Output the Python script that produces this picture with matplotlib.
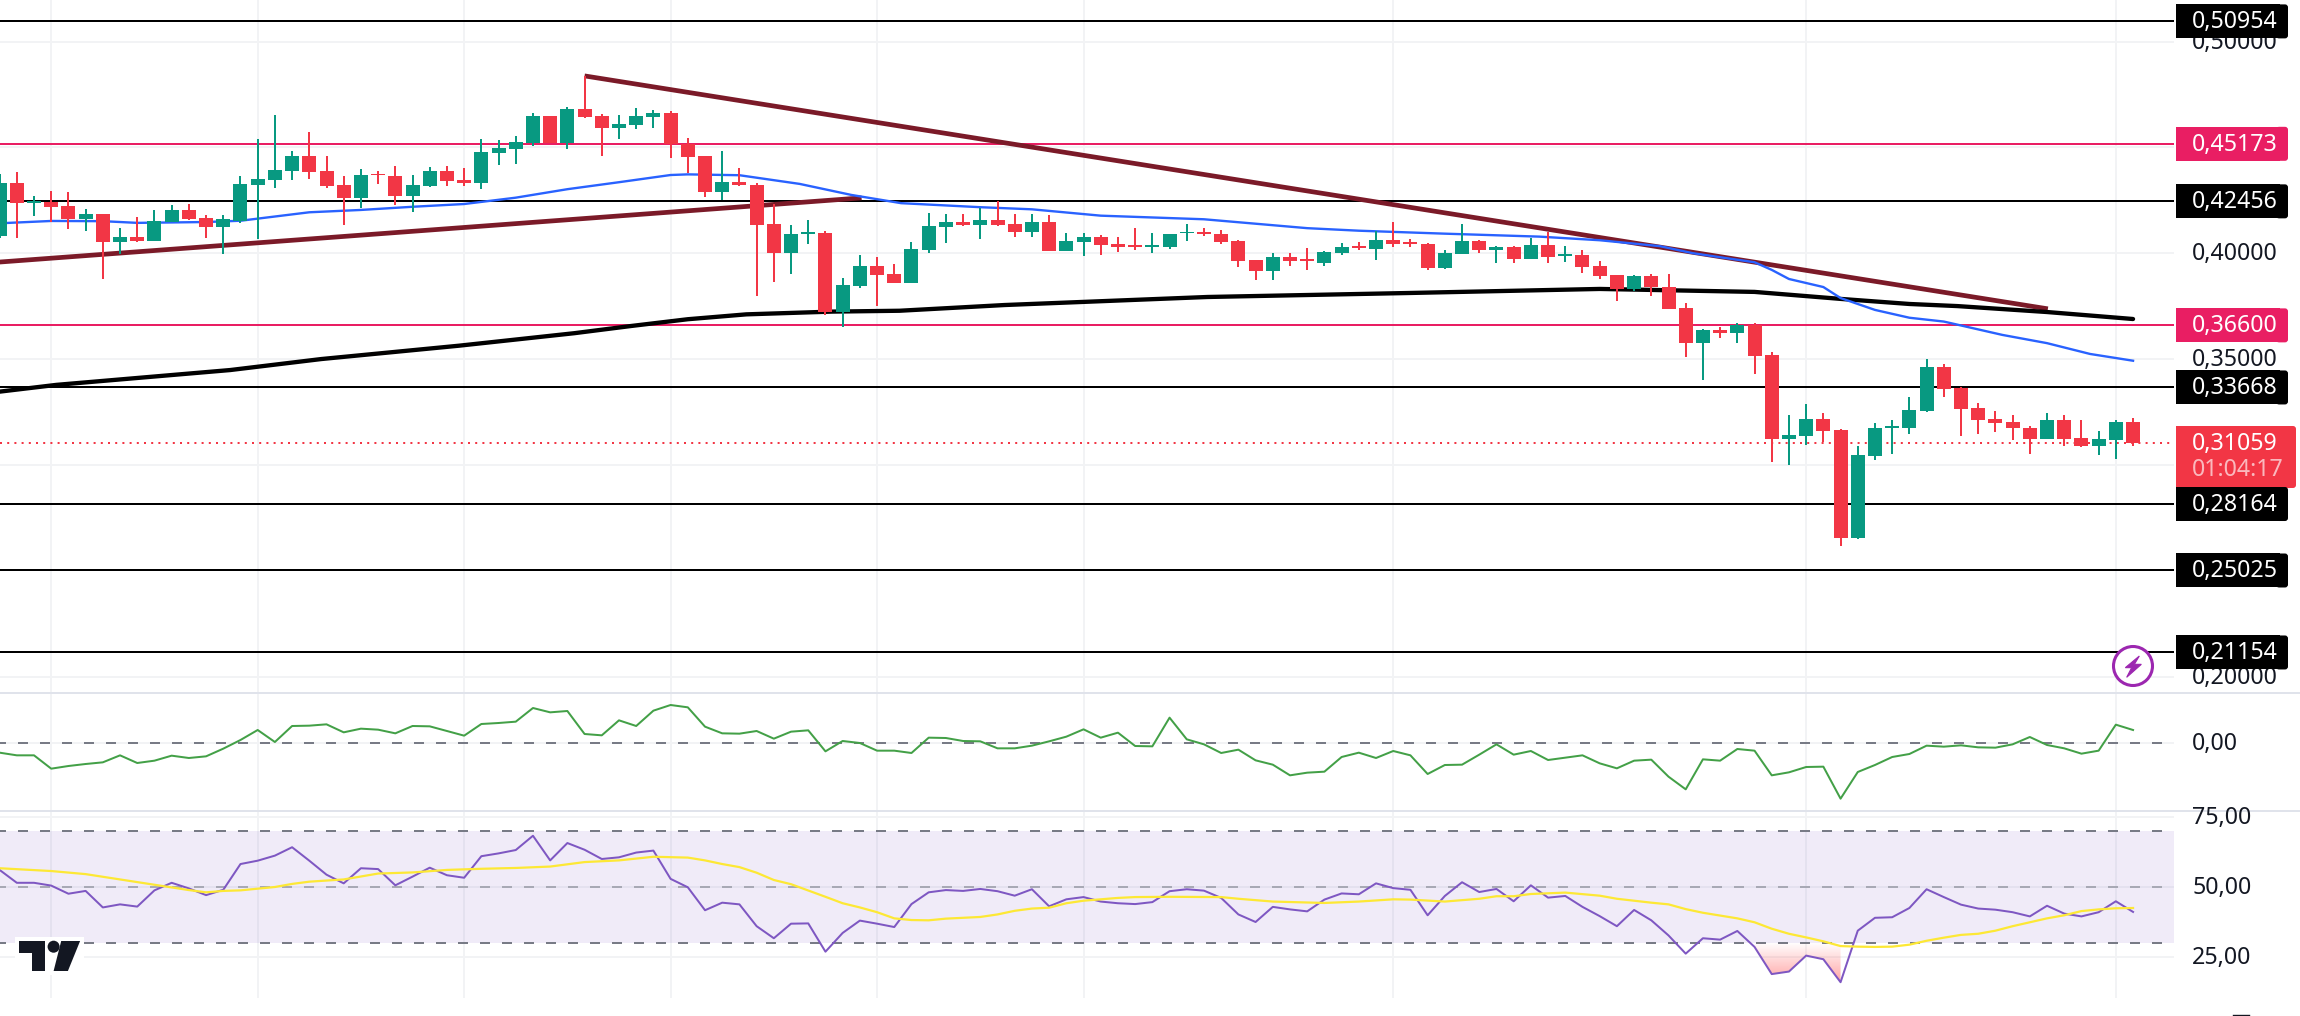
import numpy as np
import matplotlib
matplotlib.use("Agg")
import matplotlib.pyplot as plt
from matplotlib.patches import Rectangle, Circle, Polygon, FancyBboxPatch, PathPatch
from matplotlib.colors import LinearSegmentedColormap

# ---------- data ----------
opens = [.4084,.4332,.4239,.4243,.4224,.4162,.4186,.4054,.4077,.4058,.4147,.4205,.4167,.4125,.4153,.4323,.4346,.4389,.4460,.4389,
         .4323,.4261,.4375,.4365,.4271,.4318,.4389,.4346,.4332,.4474,.4493,.4520,.4649,.4520,.4682,.4649,.4592,.4606,.4644,.4663,
         .4516,.4460,.4290,.4337,.4323,.4139,.4002,
         .4092,.4096,.3723,.3846,.3941,.3903,.3860,.4016,.4125,.4148,.4134,.4158,.4139,.4101,.4148,.4011,.4054,.4078,.4044,.4040,
         .4030,.4030,.4095,.4101,.4092,.4059,.3969,.3917,.3983,.3974,.3955,.4002,.4035,.4021,.4063,.4054,.4044,.3931,.3997,.4059,
         .4016,.4030,.3974,.4040,.3988,.3992,.3941,
         .3898,.3832,.3893,.3841,.3742,.3577,.3638,.3624,.3662,.3520,.3124,.3138,.3218,.3166,.2656,.3043,.3176,.3176,.3256,.3464,
         .3364,.3270,.3218,.3204,.3176,.3124,.3213,.3128,.3091,.3119,.3204]
highs = [.4373,.4384,.4271,.4294,.4290,.4210,.4186,.4120,.4172,.4205,.4228,.4233,.4181,.4181,.4365,.4540,.4653,.4483,.4573,.4460,
         .4365,.4398,.4389,.4412,.4370,.4408,.4412,.4403,.4540,.4535,.4554,.4663,.4649,.4691,.4837,.4658,.4653,.4686,.4677,.4672,
         .4545,.4460,.4483,.4403,.4332,.4233,.4134,
         .4158,.4106,.3884,.3992,.3983,.3950,.4054,.4191,.4186,.4186,.4214,.4247,.4186,.4186,.4181,.4096,.4096,.4087,.4078,.4120,
         .4096,.4092,.4139,.4120,.4111,.4063,.3969,.4002,.4002,.4025,.4011,.4049,.4054,.4106,.4148,.4068,.4049,.4016,.4139,.4063,
         .4035,.4035,.4073,.4101,.4035,.4016,.3964,
         .3898,.3898,.3903,.3903,.3766,.3643,.3652,.3671,.3671,.3534,.3237,.3289,.3246,.3171,.3091,.3199,.3213,.3322,.3501,.3478,
         .3369,.3294,.3256,.3237,.3185,.3246,.3237,.3213,.3161,.3213,.3223]
lows = [.4074,.4074,.4178,.4150,.4115,.4106,.3879,.3997,.4054,.4058,.4147,.4158,.4073,.3997,.4144,.4068,.4308,.4346,.4351,.4308,
        .4134,.4214,.4327,.4228,.4195,.4313,.4318,.4318,.4304,.4417,.4422,.4507,.4520,.4493,.4639,.4460,.4540,.4587,.4592,.4450,
        .4379,.4266,.4252,.4318,.3799,.3865,.3903,
        .4044,.3709,.3653,.3837,.3752,.3860,.3860,.4002,.4049,.4129,.4068,.4129,.4078,.4078,.4011,.4011,.3988,.3992,.4007,.4016,
        .4002,.4021,.4059,.4082,.4044,.3936,.3874,.3874,.3941,.3922,.3941,.3992,.4016,.3969,.4030,.4030,.3922,.3927,.3997,.4002,
        .3955,.3955,.3974,.3955,.3959,.3908,.3879,
        .3775,.3823,.3799,.3738,.3511,.3402,.3601,.3577,.3431,.3015,.3001,.3095,.3109,.2619,.2652,.3025,.3053,.3147,.3251,.3322,
        .3138,.3147,.3157,.3119,.3053,.3124,.3091,.3086,.3048,.3029,.3091]
closes = [.4332,.4239,.4246,.4219,.4162,.4186,.4054,.4077,.4058,.4153,.4205,.4162,.4125,.4162,.4327,.4351,.4393,.4460,.4384,.4318,
          .4261,.4370,.4368,.4271,.4323,.4389,.4342,.4332,.4479,.4498,.4526,.4649,.4520,.4682,.4644,.4592,.4611,.4649,.4663,.4516,
          .4455,.4290,.4337,.4323,.4134,.4002,.4092,
          .4101,.3723,.3851,.3941,.3898,.3860,.4021,.4129,.4148,.4134,.4158,.4134,.4101,.4148,.4011,.4059,.4078,.4040,.4030,.4030,
          .4040,.4092,.4101,.4092,.4054,.3964,.3917,.3983,.3964,.3964,.4007,.4030,.4025,.4063,.4044,.4044,.3931,.4002,.4059,.4016,
          .4030,.3974,.4040,.3983,.3997,.3936,.3893,
          .3832,.3893,.3841,.3738,.3577,.3638,.3624,.3662,.3516,.3124,.3143,.3218,.3161,.2656,.3048,.3176,.3185,.3261,.3464,.3360,
          .3265,.3213,.3199,.3176,.3124,.3213,.3124,.3091,.3124,.3204,.31059]

ma_blue_idx = [0,3,6,8,12,14,15,18,21,24,27,30,33,36,39,40,43,46.5,49.5,52.4,57,60,64,70,76,79,84,89.5,93,96.5,98.4,100.4,102,103,104,106,107,109,111,113,116.4,119,121.5,124]
ma_blue_val = [.4142,.4153,.4152,.4144,.4148,.4154,.4164,.4194,.4205,.4220,.4233,.4263,.4303,.4336,.4370,.4373,.4369,.4328,.4276,.4237,.4218,.4208,.4178,.4161,.4119,.4107,.4093,.4079,.4062,.4034,.4001,.3977,.3958,.3922,.3879,.3841,.3789,.3733,.3696,.3678,.3615,.3576,.3525,.3493]
ma_black_idx = [0,3.3,13.4,18.7,26.7,33.4,36.7,40,43.4,48.4,52.3,58.4,70.2,82,93,102,107,111,113.8,119,124]
ma_black_val = [.3347,.3379,.3449,.3501,.3564,.3623,.3657,.3689,.3712,.3725,.3729,.3756,.3794,.3813,.3832,.3818,.3785,.3761,.3751,.3723,.3690]

trend_up_idx = [0,50.1]
trend_up_val = [.3959,.4262]
trend_down_idx = [34,119.05]
trend_down_val = [.4838,.3738]

levels_black = [.50954,.42456,.33668,.28164,.25025,.21154]
levels_pink = [.45173,.36600]
last_price = .31059
countdown = "01:04:17"

price_ticks = [.50,.40,.35,.20]
price_grid = [.50,.45,.40,.35,.30,.20]
rsi_ticks = [75,50,25]
vgrid_idx = [3,15,27,39,51,63,81,105,123]

osc = [-.30,-.38,-.38,-.78,-.70,-.64,-.59,-.38,-.61,-.54,-.39,-.46,-.41,-.18,.08,.38,.02,.50,.51,.55,.31,.42,.39,.28,.50,.49,.35,.21,.56,.59,.63,1.04,.91,.95,.26,.22,.67,.50,.96,1.13,1.06,.48,.28,.27,.35,.12,.33,
       .37,-.26,.05,-.01,-.24,-.24,-.31,.15,.14,.05,.04,-.17,-.17,-.09,.04,.18,.40,.15,.30,-.10,-.11,.75,.10,-.05,-.31,-.21,-.53,-.66,-.98,-.90,-.87,-.43,-.30,-.46,-.25,-.38,-.94,-.67,-.66,-.36,-.05,-.36,-.25,-.52,-.45,-.38,-.62,
       -.77,-.54,-.51,-1.02,-1.40,-.50,-.54,-.19,-.24,-.98,-.89,-.73,-.72,-1.68,-.88,-.67,-.43,-.34,-.09,-.12,-.08,-.14,-.15,-.05,.17,-.07,-.17,-.33,-.24,.54,.38]

rsi = [56.1,51.5,51.5,50.5,47.6,48.6,42.7,43.8,43.0,48.8,51.5,49.5,47.1,49.0,58.2,59.4,61.2,64.2,59.4,54.4,51.3,56.7,56.4,50.6,53.7,56.9,54.2,53.3,61.0,62.0,63.2,68.3,59.5,65.7,63.3,60.0,60.6,62.3,63.0,52.9,49.9,41.7,44.4,43.8,36.0,31.7,36.9,
       37.0,26.9,33.6,38.0,36.9,35.7,43.9,48.1,48.9,48.6,49.3,48.5,46.9,49.2,43.1,45.6,46.4,44.8,44.2,43.9,44.6,48.5,49.2,48.7,46.1,40.2,37.5,42.9,42.0,41.3,45.5,47.7,47.4,51.3,49.6,49.0,39.9,46.8,51.7,48.2,49.3,44.9,50.6,46.2,46.8,42.9,39.6,
       36.0,41.8,38.1,32.7,26.2,31.7,31.2,34.3,28.6,18.9,19.8,25.5,24.2,16.0,34.4,39.0,39.2,42.5,49.2,46.4,43.7,42.3,41.9,41.0,39.5,43.3,40.5,39.5,41.0,44.9,41.1]

rsi_ma_idx = [0,3,5,7,9,11,12,13,14,16,17,18,20,22,24,26,28,30,32,34,36,38,40,41,42,43,44,45,46,48,49,50,51,52,53,54,55,57,58,59,60,61,62,63,65,66,68,71,72,74,77,79,81,82,84,86,87,88,89,91,93,94,96,97,98,99,100,101,102,103,104,105,106,107,108,109,110,111,112,113,114,115,116,117,118,119,120,121,122,123,124]
rsi_ma_val = [56.7,55.7,54.6,52.7,50.8,48.9,48.1,48.6,48.8,50.0,51.1,51.9,52.7,54.8,55.2,56.1,56.5,56.8,57.3,58.9,59.5,60.8,60.5,59.5,58.2,57.1,55.1,52.5,51.0,46.5,44.2,42.7,41.0,38.8,38.2,38.1,38.7,39.3,40.2,41.5,42.3,42.6,44.2,45.1,46.1,46.4,46.5,46.4,45.8,44.8,44.3,44.8,45.6,45.5,44.8,45.8,46.7,46.7,47.5,48.0,46.9,45.8,44.4,43.8,42.1,40.8,39.8,38.8,37.4,35.1,33.3,32.0,30.6,28.9,28.7,28.6,28.7,29.4,30.8,31.9,32.9,33.3,34.4,36.0,37.4,38.8,39.9,41.4,42.0,42.4,42.5]

assert all(len(a) == 125 for a in (opens, highs, lows, closes, osc, rsi))

# ---------- colours ----------
UP, DOWN = "#089981", "#f23645"
PINK = "#e91e63"
GRID = "#f2f3f5"
SEP = "#e0e3eb"
DASH = "#787b86"
TEXT = "#131722"
MAROON = "#7b1a28"
plt.rcParams["font.family"] = ["Noto Sans", "DejaVu Sans"]

W, H = 2300, 1016
PW = 2174
fig = plt.figure(figsize=(W/100, H/100), dpi=100, facecolor="white")
def axes_px(top, bottom, right=PW):
    a = fig.add_axes([0, 1-bottom/H, right/W, (bottom-top)/H])
    a.axis("off")
    return a

K0, K1 = 0.023, 126.38
ax = axes_px(0, 693)
ax2 = axes_px(693, 811)
ax3 = axes_px(811, 998)
ax.set_xlim(K0, K1); ax2.set_xlim(K0, K1); ax3.set_xlim(K0, K1)
ax.set_ylim(.1924, .51964)
ax2.set_ylim(-2.05, 1.49)
ax3.set_ylim(10.36, 77.14)
ov = fig.add_axes([0, 0, 1, 1], zorder=10)
ov.set_xlim(0, W); ov.set_ylim(H, 0); ov.axis("off"); ov.patch.set_alpha(0)
LW2 = 1.44   # 2 px

def y_px(a, v):
    return ov.transData.inverted().transform(a.transData.transform((1, v)))[1]

# ---------- grid ----------
for a in (ax, ax2, ax3):
    for k in vgrid_idx:
        a.axvline(k, color=GRID, lw=LW2, zorder=1)
for v in price_grid:
    ax.axhline(v, color=GRID, lw=LW2, zorder=1)
ax2.axhline(0, color=GRID, lw=LW2, zorder=1)
for v in rsi_ticks:
    ax3.axhline(v, color=GRID, lw=LW2, zorder=1)

# ---------- main pane ----------
for v in levels_black:
    ax.axhline(v, color="black", lw=LW2, zorder=2)
for v in levels_pink:
    ax.axhline(v, color=PINK, lw=LW2, zorder=2)
ax.axhline(last_price, color=DOWN, lw=LW2, ls=(0, (1, 2.6)), zorder=2)
ax.plot(trend_up_idx, trend_up_val, color=MAROON, lw=3.4, zorder=3, solid_capstyle="butt")
ax.plot(trend_down_idx, trend_down_val, color=MAROON, lw=3.4, zorder=3, solid_capstyle="butt")
ax.plot(ma_black_idx, ma_black_val, color="black", lw=3.1, zorder=4, solid_capstyle="round")
ax.plot(ma_blue_idx, ma_blue_val, color="#2962ff", lw=1.7, zorder=4)

x = np.arange(125)
o, h, l, c = map(np.array, (opens, highs, lows, closes))
col = np.where(c >= o, UP, DOWN)
ax.vlines(x, l, h, colors=col, lw=LW2, zorder=5)
ax.bar(x, np.abs(c-o), bottom=np.minimum(o, c), width=14/17.205, color=col, lw=0, zorder=6)

# ---------- oscillator pane ----------
ax2.axhline(0, color=DASH, lw=LW2, ls=(2, (5, 6)), zorder=2)
ax2.plot(x, osc, color="#43a047", lw=LW2, zorder=3)

# ---------- RSI pane ----------
ax3.axhspan(30, 70, color="#7e57c2", alpha=.115, lw=0, zorder=1.5)
for v, al in ((70, 1), (50, .55), (30, 1)):
    ax3.axhline(v, color=DASH, alpha=al, lw=LW2, ls=(2, (5, 6)), zorder=2)
seg = slice(102, 108)
xs, ys = x[seg], np.array(rsi)[seg]
poly = ax3.fill_between(xs, ys, 30, where=ys < 30, interpolate=True, color="none", lw=0)
cmap = LinearSegmentedColormap.from_list("g", [(1, .36, .36, .55), (1, .36, .36, 0.0)])
img = ax3.imshow(np.linspace(0, 1, 64)[:, None], extent=(100, 110, 16, 30), origin="lower",
                 cmap=cmap, aspect="auto", zorder=2.2)
clip = PathPatch(poly.get_paths()[0], transform=ax3.transData)
img.set_clip_path(clip)
ax3.set_xlim(K0, K1); ax3.set_ylim(10.36, 77.14)
ax3.plot(x, rsi, color="#7e57c2", lw=LW2, zorder=3)
ax3.plot(rsi_ma_idx, rsi_ma_val, color="#fde835", lw=1.6, zorder=4)

# ---------- separators ----------
for yy in (693, 811):
    ov.plot([0, W], [yy, yy], color=SEP, lw=LW2, zorder=1)

# ---------- axis text ----------
def fmt(v, n=5):
    return f"{v:.{n}f}".replace(".", ",")
FS = 16.7
TX = 2192
for v in price_ticks:
    ov.text(TX, y_px(ax, v)+7, fmt(v), color=TEXT, fontsize=FS, va="baseline", ha="left", zorder=2)
ov.text(TX, y_px(ax2, 0)+7, fmt(0, 2), color=TEXT, fontsize=FS, va="baseline", ha="left", zorder=2)
for v in rsi_ticks:
    t = ov.text(TX, y_px(ax3, v)+7, fmt(v, 2), color=TEXT, fontsize=FS, va="baseline", ha="left", zorder=2)
    t.set_clip_path(Rectangle((2176, 812), 124, 204, transform=ov.transData))

def tag(v, color, x1=2288):
    yy = y_px(ax, v)
    t0, t1 = yy-17, yy+17
    ov.add_patch(Rectangle((2176, t0), x1-2176-8, t1-t0, fc=color, ec="none", zorder=4))
    ov.add_patch(FancyBboxPatch((x1-12, t0), 12, t1-t0, boxstyle="round,pad=0,rounding_size=3", fc=color, ec="none", zorder=4))
    ov.text(TX, yy+7, fmt(v), color="white", fontsize=FS, va="baseline", ha="left", zorder=5)

ov.add_patch(Rectangle((2176, 426), 110, 62, fc=DOWN, ec="none", zorder=3))
ov.add_patch(FancyBboxPatch((2280, 426), 16, 62, boxstyle="round,pad=0,rounding_size=3", fc=DOWN, ec="none", zorder=3))
ov.text(TX, y_px(ax, last_price)+7, fmt(last_price), color="white", fontsize=FS, va="baseline", ha="left", zorder=5)
ov.text(TX, 476, countdown, color="white", alpha=.65, fontsize=FS, va="baseline", ha="left", zorder=5)
for v in levels_black:
    tag(v, "black")
for v in levels_pink:
    tag(v, PINK)

# ---------- logo, icon, small mark ----------
ov.add_patch(Rectangle((15, 937), 69, 38, fc="white", ec="none", zorder=6))
DARK = "#131722"
ov.add_patch(Polygon([(19.4, 941), (44.9, 941), (44.9, 971), (32.1, 971), (32.1, 953.3), (19.4, 953.3)], fc=DARK, ec="none", zorder=7))
ov.add_patch(Circle((53.6, 946.7), 6, fc=DARK, ec="none", zorder=7))
ov.add_patch(Polygon([(61.2, 941), (80.1, 941), (67.9, 971), (53.6, 971)], fc=DARK, ec="none", zorder=7))

ov.add_patch(Circle((2133, 666), 19.5, fc="white", ec="#9c27b0", lw=2.2, zorder=6))
bx = np.array([(118, 78), (76, 113), (95, 113), (80, 142), (124, 103), (103, 103)], float)
ov.add_patch(Polygon(np.c_[2100+bx[:, 0]/3, 630+bx[:, 1]/3], fc="#9c27b0", ec="#9c27b0", lw=.8, zorder=7))
ov.plot([2233, 2249], [1015.3, 1015.3], color=TEXT, lw=1, zorder=2)

fig.savefig("out.png", dpi=100, facecolor="white")
